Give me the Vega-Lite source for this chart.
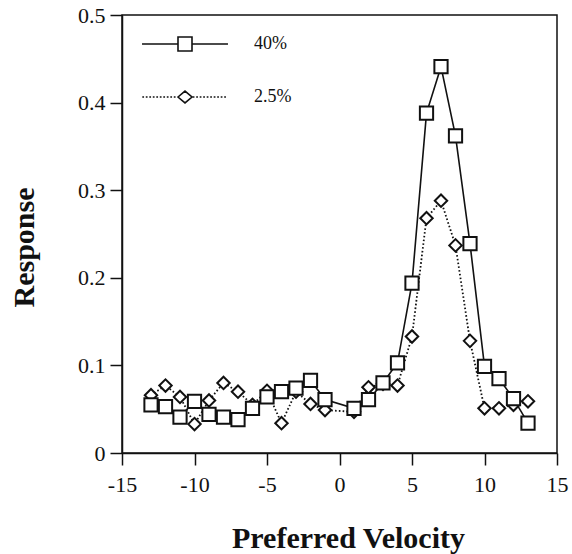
{
  "$schema": "https://vega.github.io/schema/vega-lite/v6.json",
  "autosize": "none",
  "width": 435,
  "height": 438,
  "padding": {"left": 122, "top": 15, "right": 15, "bottom": 101},
  "background": "white",
  "config": {
    "font": "Liberation Serif",
    "view": {"stroke": "#111", "strokeWidth": 1.5},
    "axis": {
      "grid": false,
      "domainColor": "#111",
      "domainWidth": 1.5,
      "tickColor": "#111",
      "tickWidth": 1.5,
      "tickSize": 12,
      "labelFont": "Liberation Serif",
      "labelFontSize": 22,
      "labelColor": "#111",
      "titleFont": "Liberation Serif",
      "titleFontSize": 30,
      "titleFontWeight": "bold",
      "titleColor": "#111"
    }
  },
  "data": {
    "values": [
      {"v": -13, "r": 0.055, "series": "40%"},
      {"v": -12, "r": 0.053, "series": "40%"},
      {"v": -11, "r": 0.041, "series": "40%"},
      {"v": -10, "r": 0.059, "series": "40%"},
      {"v": -9, "r": 0.044, "series": "40%"},
      {"v": -8, "r": 0.041, "series": "40%"},
      {"v": -7, "r": 0.038, "series": "40%"},
      {"v": -6, "r": 0.051, "series": "40%"},
      {"v": -5, "r": 0.064, "series": "40%"},
      {"v": -4, "r": 0.070, "series": "40%"},
      {"v": -3, "r": 0.074, "series": "40%"},
      {"v": -2, "r": 0.083, "series": "40%"},
      {"v": -1, "r": 0.061, "series": "40%"},
      {"v": 1, "r": 0.051, "series": "40%"},
      {"v": 2, "r": 0.061, "series": "40%"},
      {"v": 3, "r": 0.080, "series": "40%"},
      {"v": 4, "r": 0.103, "series": "40%"},
      {"v": 5, "r": 0.194, "series": "40%"},
      {"v": 6, "r": 0.388, "series": "40%"},
      {"v": 7, "r": 0.441, "series": "40%"},
      {"v": 8, "r": 0.362, "series": "40%"},
      {"v": 9, "r": 0.239, "series": "40%"},
      {"v": 10, "r": 0.099, "series": "40%"},
      {"v": 11, "r": 0.085, "series": "40%"},
      {"v": 12, "r": 0.062, "series": "40%"},
      {"v": 13, "r": 0.034, "series": "40%"},
      {"v": -13, "r": 0.066, "series": "2.5%"},
      {"v": -12, "r": 0.077, "series": "2.5%"},
      {"v": -11, "r": 0.064, "series": "2.5%"},
      {"v": -10, "r": 0.033, "series": "2.5%"},
      {"v": -9, "r": 0.060, "series": "2.5%"},
      {"v": -8, "r": 0.080, "series": "2.5%"},
      {"v": -7, "r": 0.070, "series": "2.5%"},
      {"v": -6, "r": 0.055, "series": "2.5%"},
      {"v": -5, "r": 0.071, "series": "2.5%"},
      {"v": -4, "r": 0.034, "series": "2.5%"},
      {"v": -3, "r": 0.070, "series": "2.5%"},
      {"v": -2, "r": 0.056, "series": "2.5%"},
      {"v": -1, "r": 0.049, "series": "2.5%"},
      {"v": 1, "r": 0.047, "series": "2.5%"},
      {"v": 2, "r": 0.075, "series": "2.5%"},
      {"v": 3, "r": 0.079, "series": "2.5%"},
      {"v": 4, "r": 0.077, "series": "2.5%"},
      {"v": 5, "r": 0.133, "series": "2.5%"},
      {"v": 6, "r": 0.268, "series": "2.5%"},
      {"v": 7, "r": 0.288, "series": "2.5%"},
      {"v": 8, "r": 0.237, "series": "2.5%"},
      {"v": 9, "r": 0.128, "series": "2.5%"},
      {"v": 10, "r": 0.051, "series": "2.5%"},
      {"v": 11, "r": 0.051, "series": "2.5%"},
      {"v": 12, "r": 0.055, "series": "2.5%"},
      {"v": 13, "r": 0.059, "series": "2.5%"}
    ]
  },
  "encoding": {
    "x": {
      "field": "v",
      "type": "quantitative",
      "scale": {"domain": [-15, 15], "nice": false, "zero": false},
      "axis": {
        "values": [-15, -10, -5, 0, 5, 10, 15],
        "labelExpr": "'' + datum.value",
        "labelBaseline": "alphabetic",
        "labelPadding": 26,
        "labelFlush": false,
        "labelOverlap": false,
        "title": "Preferred Velocity",
        "titleX": 226,
        "titleY": 94,
        "titleBaseline": "alphabetic",
        "titleAlign": "center"
      }
    },
    "y": {
      "field": "r",
      "type": "quantitative",
      "scale": {"domain": [0, 0.5], "nice": false},
      "axis": {
        "values": [0, 0.1, 0.2, 0.3, 0.4, 0.5],
        "labelExpr": "datum.value == 0 ? '0' : format(datum.value, '.1f')",
        "labelPadding": 5,
        "labelFlush": false,
        "labelOverlap": false,
        "title": "Response",
        "titleX": -89,
        "titleY": 232,
        "titleAngle": -90,
        "titleBaseline": "alphabetic",
        "titleAlign": "center"
      }
    }
  },
  "layer": [
    {
      "transform": [{"filter": "datum.series == '2.5%'"}],
      "mark": {"type": "line", "stroke": "#111", "strokeWidth": 1.8, "strokeDash": [1.6, 2.2]}
    },
    {
      "transform": [{"filter": "datum.series == '2.5%'"}],
      "mark": {"type": "point", "shape": "diamond", "size": 155, "filled": true, "fill": "white", "stroke": "#111", "strokeWidth": 2, "opacity": 1}
    },
    {
      "transform": [{"filter": "datum.series == '40%'"}],
      "mark": {"type": "line", "stroke": "#111", "strokeWidth": 1.6}
    },
    {
      "transform": [{"filter": "datum.series == '40%'"}],
      "mark": {"type": "point", "shape": "square", "size": 175, "filled": true, "fill": "white", "stroke": "#111", "strokeWidth": 2, "opacity": 1}
    },
    {
      "transform": [{"filter": "false"}],
      "mark": {"type": "point", "color": "#111", "strokeWidth": 1.6},
      "encoding": {
        "shape": {
          "field": "series",
          "type": "nominal",
          "scale": {
            "domain": ["40%", "2.5%"],
            "range": [
              "M-6.14,0H-1M1,0H6.14M-1,-1H1V1H-1Z",
              "M-6.1,0h0.25m0.25,0h0.25m0.25,0h0.25m0.25,0h0.25m0.25,0h0.25m0.25,0h0.25m0.25,0h0.25m0.25,0h0.25m0.25,0h0.25m0.25,0h0.25M1.1,0h0.25m0.25,0h0.25m0.25,0h0.25m0.25,0h0.25m0.25,0h0.25m0.25,0h0.25m0.25,0h0.25m0.25,0h0.25m0.25,0h0.25m0.25,0h0.25M-1,0L0,-0.85L1,0L0,0.85Z"
            ]
          },
          "legend": {
            "orient": "none",
            "legendX": 54,
            "legendY": 20,
            "title": null,
            "symbolSize": 196,
            "symbolStrokeWidth": 1.6,
            "symbolOpacity": 1,
            "symbolFillColor": "white",
            "symbolStrokeColor": "#111",
            "labelFont": "Liberation Serif",
            "labelFontSize": 18,
            "labelColor": "#111",
            "labelOffset": 60,
            "rowPadding": 32
          }
        }
      }
    }
  ]
}
